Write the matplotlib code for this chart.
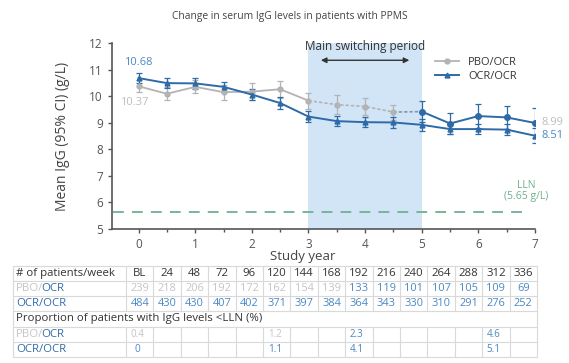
import numpy as np
import matplotlib
matplotlib.use("Agg")
import matplotlib.pyplot as plt
from matplotlib.lines import Line2D

plt.rcParams['font.family'] = ['Open Sans', 'DejaVu Sans']

# study year positions (week / 48)
years = [0, 0.5, 1, 1.5, 2, 2.5, 3, 3.5, 4, 4.5, 5, 5.5, 6, 6.5, 7]

pbo_mean = [10.37, 10.09, 10.35, 10.15, 10.17, 10.26, 9.83, 9.68, 9.61, 9.40, 9.42, 8.97, 9.25, 9.20, 8.99]
pbo_err = [0.22, 0.25, 0.25, 0.28, 0.32, 0.32, 0.30, 0.36, 0.32, 0.28, 0.38, 0.38, 0.45, 0.42, 0.55]
ocr_mean = [10.68, 10.49, 10.48, 10.35, 10.06, 9.74, 9.23, 9.06, 9.02, 9.01, 8.92, 8.76, 8.76, 8.74, 8.51]
ocr_err = [0.2, 0.2, 0.2, 0.2, 0.2, 0.22, 0.2, 0.2, 0.2, 0.2, 0.23, 0.2, 0.2, 0.2, 0.28]

lln = 5.65

weeks = ['BL', '24', '48', '72', '96', '120', '144', '168', '192', '216', '240', '264', '288', '312', '336']
n_pbo = [239, 218, 206, 192, 172, 162, 154, 139, 133, 119, 101, 107, 105, 109, 69]
n_ocr = [484, 430, 430, 407, 402, 371, 397, 384, 364, 343, 330, 310, 291, 276, 252]
pct_pbo = {'BL': '0.4', '120': '1.2', '192': '2.3', '312': '4.6'}
pct_ocr = {'BL': '0', '120': '1.1', '192': '4.1', '312': '5.1'}

BLUE = '#2f6aa8'
LBLUE = '#4a88c4'
GREY = '#b3b3b3'
DGREY = '#555555'
GREEN = '#6fb08f'

W, H = 569, 363
fig = plt.figure(figsize=(W / 100, H / 100), dpi=100)
ax = fig.add_axes([112 / W, 1 - 229 / H, (535 - 112) / W, (229 - 43) / H])

ax.axvspan(3, 5, color='#d2e5f6', lw=0, zorder=0)
ax.plot([-0.45, 6.9], [lln, lln], ls=(0, (6, 4.5)), color=GREEN, lw=1.3, zorder=1)

ekw = dict(capsize=2.5, elinewidth=0.9, capthick=0.9)
x = np.array(years)
pm = np.array(pbo_mean)
pe = np.array(pbo_err)
om = np.array(ocr_mean)
oe = np.array(ocr_err)

# PBO/OCR: grey before switch, dashed through switch, blue after
ax.errorbar(x[:10], pm[:10], yerr=pe[:10], fmt='none', ecolor=GREY, zorder=2, **ekw)
ax.errorbar(x[10:], pm[10:], yerr=pe[10:], fmt='none', ecolor=BLUE, zorder=2, **ekw)
ax.plot(x[:7], pm[:7], color=GREY, lw=1.3, zorder=3)
ax.plot(x[6:10], pm[6:10], color=GREY, lw=1.2, ls=(0, (2, 1.2)), zorder=3)
ax.plot(x[9:11], pm[9:11], color='#7f98b8', lw=1.2, ls=(0, (2, 1.2)), zorder=3)
ax.plot(x[10:], pm[10:], color=BLUE, lw=1.4, zorder=3)
ax.plot(x[:10], pm[:10], 'o', color=GREY, ms=3.5, zorder=4)
ax.plot(x[10:], pm[10:], 'o', color=BLUE, ms=4, zorder=4)

# OCR/OCR
ax.errorbar(x, om, yerr=oe, fmt='none', ecolor=BLUE, zorder=2, **ekw)
ax.plot(x, om, '-^', color=BLUE, lw=1.4, ms=3.5, zorder=5)

ax.set_xlim(-0.47, 7)
ax.set_ylim(5, 12)
ax.set_xticks(range(8))
ax.set_xticks(years, minor=True)
ax.set_yticks(range(5, 13))
for s in ['top', 'right']:
    ax.spines[s].set_visible(False)
for s in ['left', 'bottom']:
    ax.spines[s].set_color(DGREY)
    ax.spines[s].set_linewidth(1.2)
ax.tick_params(axis='both', colors=DGREY, labelsize=8.5, length=3, width=1)
ax.tick_params(axis='x', which='minor', length=2, width=1, colors=DGREY)
ax.set_xlabel('Study year', fontsize=9.5, color='#444444')
ax.xaxis.set_label_coords(0.45, -0.115)
ax.set_ylabel('Mean IgG (95% CI) (g/L)', fontsize=10, color='#444444', labelpad=14)

ax.text(0, 11.27, '10.68', color=LBLUE, fontsize=8, ha='center', va='center')
ax.text(-0.07, 9.76, '10.37', color='#bdbdbd', fontsize=8, ha='center', va='center')
ax.text(7.12, 8.99, '8.99', color='#bdbdbd', fontsize=8, ha='left', va='center', clip_on=False)
ax.text(7.12, 8.51, '8.51', color=LBLUE, fontsize=8, ha='left', va='center', clip_on=False)
ax.text(6.85, 6.0, 'LLN\n(5.65 g/L)', color=GREEN, fontsize=7.5, ha='center', va='bottom',
        linespacing=1.1)

ax.annotate('', xy=(3.17, 11.35), xytext=(4.83, 11.35),
            arrowprops=dict(arrowstyle='<|-|>', color='#333333', lw=1, mutation_scale=8))
ax.text(4, 11.85, 'Main switching period', color='#333333', fontsize=8.5, ha='center', va='center')

leg = [Line2D([0], [0], color=GREY, marker='o', ms=3.5, lw=1.3),
       Line2D([0], [0], color=BLUE, marker='^', ms=3.5, lw=1.4)]
ax.legend(leg, ['PBO/OCR', 'OCR/OCR'], loc='upper left', bbox_to_anchor=(0.74, 0.98),
          frameon=False, fontsize=8, handlelength=2.2, labelspacing=0.3, labelcolor='#333333')

fig.text(290 / W, 1 - 17 / H, 'Change in serum IgG levels in patients with PPMS',
         fontsize=7.4, color='#444444', ha='center', va='center')

# table (drawn in pixel coordinates)
tx = fig.add_axes([0, 0, 1, 1])
tx.set_xlim(0, W)
tx.set_ylim(H, 0)
tx.axis('off')

rows = [266, 281, 296, 311, 327, 342, 357]
left, first = 13, 126
cw = 27.4
right = first + cw * len(weeks)
lc = '#d9d9d9'
for r in rows:
    tx.plot([left, right], [r, r], color=lc, lw=0.8)
tx.plot([left, left], [rows[0], rows[-1]], color=lc, lw=0.8)
tx.plot([right, right], [rows[0], rows[-1]], color=lc, lw=0.8)
for i in range(len(weeks)):
    xb = first + cw * i
    for a, b in [(rows[0], rows[3]), (rows[4], rows[6])]:
        tx.plot([xb, xb], [a, b], color=lc, lw=0.8)

fs = 8.2
cy = [(rows[i] + rows[i + 1]) / 2 for i in range(6)]
tx.text(left + 3, cy[0], '# of patients/week', fontsize=fs, color='#333333', va='center')
tx.text(left + 3, cy[3], 'Proportion of patients with IgG levels <LLN (%)', fontsize=fs,
        color='#333333', va='center')
for row in (1, 4):
    t = tx.text(left + 3, cy[row], 'PBO/', fontsize=fs, color='#c4c4c4', va='center')
    tx.annotate('OCR', xycoords=t, xy=(1, 0.5), xytext=(-1.5, 0), textcoords='offset points',
                va='center', fontsize=fs, color=BLUE)
for row in (2, 5):
    tx.text(left + 3, cy[row], 'OCR/OCR', fontsize=fs, color=BLUE, va='center')

for i, w in enumerate(weeks):
    xc = first + cw * (i + 0.5)
    after = i >= 8
    tx.text(xc, cy[0], w, fontsize=fs, color='#333333', ha='center', va='center')
    tx.text(xc, cy[1], str(n_pbo[i]), fontsize=fs - 0.3, color=LBLUE if after else '#c4c4c4',
            ha='center', va='center')
    tx.text(xc, cy[2], str(n_ocr[i]), fontsize=fs - 0.3, color=LBLUE, ha='center', va='center')
    if w in pct_pbo:
        tx.text(xc - 2, cy[4], pct_pbo[w], fontsize=fs - 1.2, color=LBLUE if after else '#c4c4c4',
                ha='center', va='center')
    if w in pct_ocr:
        tx.text(xc - 2, cy[5], pct_ocr[w], fontsize=fs - 1, color=LBLUE, ha='center', va='center')

fig.savefig('out.png', dpi=100)
